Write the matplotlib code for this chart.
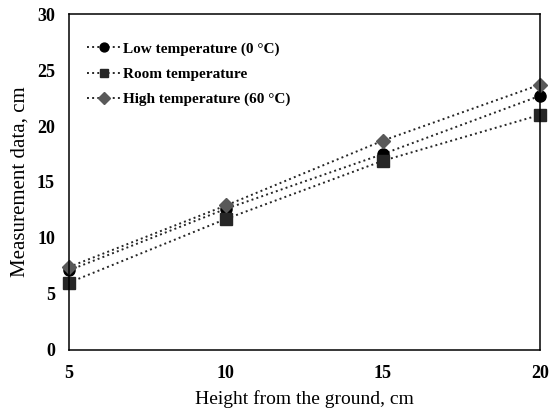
import numpy as np
import matplotlib
matplotlib.use("Agg")
import matplotlib.pyplot as plt

plt.rcParams['font.family'] = ['Liberation Serif', 'DejaVu Serif']

heights = [5, 10, 15, 20]
low_temp = [7.1, 12.6, 17.5, 22.7]
room_temp = [6.0, 11.7, 16.9, 21.0]
high_temp = [7.4, 12.9, 18.7, 23.7]

fig = plt.figure(figsize=(5.51, 4.16), dpi=100)
ax = fig.add_axes([0.125, 0.159, 0.855, 0.807])

ax.plot(heights, low_temp, ":", color="#262626", marker="o", markersize=8,
        markerfacecolor="black", markeredgecolor="black", linewidth=1.4,
        clip_on=False, label="Low temperature (0 \u00b0C)")
ax.plot(heights, room_temp, ":", color="#262626", marker="s", markersize=8,
        markerfacecolor="#262626", markeredgecolor="#262626", linewidth=1.4,
        clip_on=False, label="Room temperature")
ax.plot(heights, high_temp, ":", color="#262626", marker="D", markersize=7.5,
        markerfacecolor="#595959", markeredgecolor="#595959", linewidth=1.4,
        clip_on=False, label="High temperature (60 \u00b0C)")

ax.set_xlim(5, 20)
ax.set_ylim(0, 30)
ax.set_xticks([5, 10, 15, 20])
ax.set_yticks(np.arange(0, 31, 5))
ax.tick_params(axis="both", length=0, labelsize=13)
ax.tick_params(axis="y", pad=10)
ax.tick_params(axis="x", pad=11)
for lab in ax.get_xticklabels() + ax.get_yticklabels():
    lab.set_fontweight("bold")
for s in ax.spines.values():
    s.set_linewidth(1.1)
    s.set_color("black")

ax.set_xlabel("Height from the ground, cm", fontsize=14, labelpad=6)
ax.set_ylabel("Measurement data, cm", fontsize=15, labelpad=5)

ax.legend(loc="upper left", frameon=False, prop={"weight": "bold", "size": 11},
          handlelength=2.2, handletextpad=0.15, markerscale=0.8,
          bbox_to_anchor=(0.01, 0.958), labelspacing=0.75)

fig.savefig("out.png", dpi=100)
